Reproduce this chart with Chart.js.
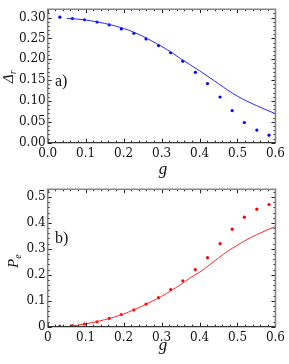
<!DOCTYPE html>
<html>
<head>
<meta charset="utf-8">
<script src="https://cdn.jsdelivr.net/npm/chart.js@4/dist/chart.umd.min.js"></script>
<style>
html,body{margin:0;padding:0;background:#fff;width:289px;height:364px;overflow:hidden;}
canvas{position:absolute;left:0;}
#c1{top:0;}
#c2{top:180px;}
</style>
</head>
<body>
<canvas id="c1" width="289" height="180"></canvas>
<canvas id="c2" width="289" height="184"></canvas>
<script>
// ---- data ----
const gPts = [0.032, 0.065, 0.097, 0.130, 0.162, 0.194, 0.227, 0.259, 0.292, 0.324, 0.356, 0.389, 0.421, 0.454, 0.486, 0.518, 0.551, 0.583];
const deltaPts = [0.3008, 0.2977, 0.2947, 0.2893, 0.2826, 0.2726, 0.2623, 0.2487, 0.2329, 0.2156, 0.1954, 0.1688, 0.1417, 0.1095, 0.0769, 0.0484, 0.0303, 0.0181];
const pePts = [0.002, 0.004, 0.010, 0.019, 0.032, 0.047, 0.065, 0.087, 0.112, 0.143, 0.177, 0.220, 0.266, 0.320, 0.376, 0.422, 0.453, 0.471];
const gLine = [0.05, 0.075, 0.1, 0.125, 0.15, 0.175, 0.2, 0.225, 0.25, 0.275, 0.3, 0.325, 0.35, 0.375, 0.4, 0.425, 0.45, 0.475, 0.5, 0.525, 0.55, 0.575, 0.6];
const deltaLine = [0.298, 0.2965, 0.294, 0.2905, 0.286, 0.2805, 0.274, 0.2655, 0.2555, 0.2435, 0.231, 0.217, 0.2015, 0.187, 0.1725, 0.157, 0.1415, 0.1255, 0.1115, 0.0995, 0.089, 0.079, 0.0695];
const peLine = [0.000, 0.005, 0.011, 0.018, 0.027, 0.037, 0.049, 0.064, 0.080, 0.098, 0.117, 0.139, 0.162, 0.188, 0.210, 0.237, 0.265, 0.292, 0.314, 0.336, 0.354, 0.371, 0.386];
const xTicks = [0, 0.1, 0.2, 0.3, 0.4, 0.5, 0.6];
const xTickLabelsTop = ['0.0', '0.1', '0.2', '0.3', '0.4', '0.5', '0.6'];
const xTickLabelsBot = ['0', '0.1', '0.2', '0.3', '0.4', '0.5', '0.6'];
const yTicksTop = [0, 0.05, 0.10, 0.15, 0.20, 0.25, 0.30];
const yTickLabelsTop = ['0.00', '0.05', '0.10', '0.15', '0.20', '0.25', '0.30'];
const yTicksBot = [0, 0.1, 0.2, 0.3, 0.4, 0.5];
const yTickLabelsBot = ['0', '0.1', '0.2', '0.3', '0.4', '0.5'];

const BLUE = '#0000ff', RED = '#ff0000';
const SERIF = '"DejaVu Serif", "Liberation Serif", serif';

function pts(xs, ys) { return xs.map((v, i) => ({x: v, y: ys[i]})); }

const framePlugin = {
  id: 'frame',
  afterDatasetsDraw(chart, args, o) {
    const {ctx, chartArea: a, scales: {x, y}} = chart;
    ctx.save();
    ctx.strokeStyle = '#222';
    ctx.lineWidth = 1;
    ctx.beginPath();
    for (let i = 0; i <= Math.round(o.xMax / o.xMinor); i++) {
      const v = i * o.xMinor;
      const major = i % o.xEvery === 0;
      const len = major ? 4 : 2;
      const px = Math.round(x.getPixelForValue(v)) + 0.5;
      ctx.moveTo(px, a.bottom); ctx.lineTo(px, a.bottom - len);
      ctx.moveTo(px, a.top); ctx.lineTo(px, a.top + len);
    }
    for (let i = 0; i <= Math.floor(o.yMax / o.yMinor + 1e-6); i++) {
      const v = i * o.yMinor;
      const major = i % o.yEvery === 0;
      const len = major ? 4 : 2;
      const py = Math.round(y.getPixelForValue(v)) + 0.5;
      ctx.moveTo(a.left, py); ctx.lineTo(a.left + len, py);
      ctx.moveTo(a.right, py); ctx.lineTo(a.right - len, py);
    }
    ctx.stroke();
    ctx.strokeStyle = '#858585';
    ctx.lineWidth = 1.6;
    ctx.beginPath();
    ctx.moveTo(a.left, a.bottom); ctx.lineTo(a.left, a.top);
    ctx.lineTo(a.right, a.top); ctx.lineTo(a.right, a.bottom);
    ctx.stroke();
    ctx.strokeStyle = '#333';
    ctx.lineWidth = 1.3;
    ctx.beginPath();
    ctx.moveTo(a.left, a.bottom); ctx.lineTo(a.right, a.bottom);
    ctx.stroke();
    ctx.fillStyle = '#111';
    ctx.font = '16px "Liberation Serif", serif';
    ctx.textBaseline = 'alphabetic';
    ctx.textAlign = 'left';
    ctx.fillText(o.panel, o.panelX, o.panelY);
    ctx.font = 'italic 17px "Liberation Serif", serif';
    ctx.textAlign = 'center';
    ctx.fillText('g', o.gX, o.gY);
    ctx.save();
    ctx.translate(o.yTX, o.yTY);
    ctx.rotate(-Math.PI / 2);
    ctx.textAlign = 'left';
    ctx.font = o.mainFont;
    ctx.fillText(o.main, 0, 0);
    const w = ctx.measureText(o.main).width;
    ctx.font = 'italic 10px "Liberation Serif", serif';
    ctx.fillText(o.sub, w, 3);
    ctx.restore();
    ctx.restore();
  }
};

function makeChart(id, cfg) {
  return new Chart(document.getElementById(id), {
    data: {
      datasets: [
        {type: 'line', data: pts(gLine, cfg.line), borderColor: cfg.lineColor, borderWidth: 1, pointRadius: 0, cubicInterpolationMode: 'monotone', fill: false},
        {type: 'scatter', data: pts(gPts, cfg.pts), backgroundColor: cfg.color, borderColor: cfg.color, borderWidth: 0, pointRadius: 1.6, pointStyle: 'circle'}
      ]
    },
    options: {
      responsive: false,
      animation: false,
      devicePixelRatio: 1,
      layout: {padding: cfg.padding},
      plugins: {
        legend: {display: false},
        tooltip: {enabled: false},
        frame: cfg.frame
      },
      scales: {
        x: {
          type: 'linear', min: 0, max: 0.6,
          grid: {display: false, drawTicks: false},
          border: {display: false},
          afterBuildTicks: s => { s.ticks = xTicks.map(v => ({value: v})); },
          afterFit: s => { s.height = 37.3; },
          ticks: {
            padding: 4, color: '#111', maxRotation: 0, autoSkip: false,
            font: {family: SERIF, size: 12},
            callback: (v, i) => cfg.xLabels[i]
          }
        },
        y: {
          type: 'linear', min: 0, max: cfg.yMax,
          grid: {display: false, drawTicks: false},
          border: {display: false},
          afterBuildTicks: s => { s.ticks = cfg.yTicks.map(v => ({value: v})); },
          afterFit: s => { s.width = 47.7; },
          ticks: {
            padding: 2, color: '#111', autoSkip: false,
            font: {family: SERIF, size: 12},
            callback: (v, i) => cfg.yLabels[i]
          }
        }
      }
    },
    plugins: [framePlugin]
  });
}

makeChart('c1', {
  line: deltaLine, pts: deltaPts, color: BLUE, lineColor: '#2a2aff',
  yMax: 0.32, yTicks: yTicksTop, yLabels: yTickLabelsTop, xLabels: xTickLabelsTop,
  padding: {top: 1, right: 9.7, left: 0, bottom: 0},
  frame: {xMax: 0.6, xMinor: 0.02, xEvery: 5, yMax: 0.32, yMinor: 0.01, yEvery: 5,
    panel: 'a)', panelX: 55, panelY: 86, gX: 163, gY: 173.5,
    yTX: 13, yTY: 83, main: 'Δ', mainFont: 'italic 15px "Liberation Serif", serif', sub: 'r'}
});

makeChart('c2', {
  line: peLine, pts: pePts, color: RED, lineColor: '#ff2a2a',
  yMax: 0.53, yTicks: yTicksBot, yLabels: yTickLabelsBot, xLabels: xTickLabelsBot,
  padding: {top: 4, right: 10, left: 0, bottom: 0},
  frame: {xMax: 0.6, xMinor: 0.02, xEvery: 5, yMax: 0.53, yMinor: 0.02, yEvery: 5,
    panel: 'b)', panelX: 55, panelY: 63, gX: 163, gY: 169.5,
    yTX: 18, yTY: 88, main: 'P', mainFont: 'italic 15px "Liberation Serif", serif', sub: 'e'}
});
</script>
</body>
</html>
